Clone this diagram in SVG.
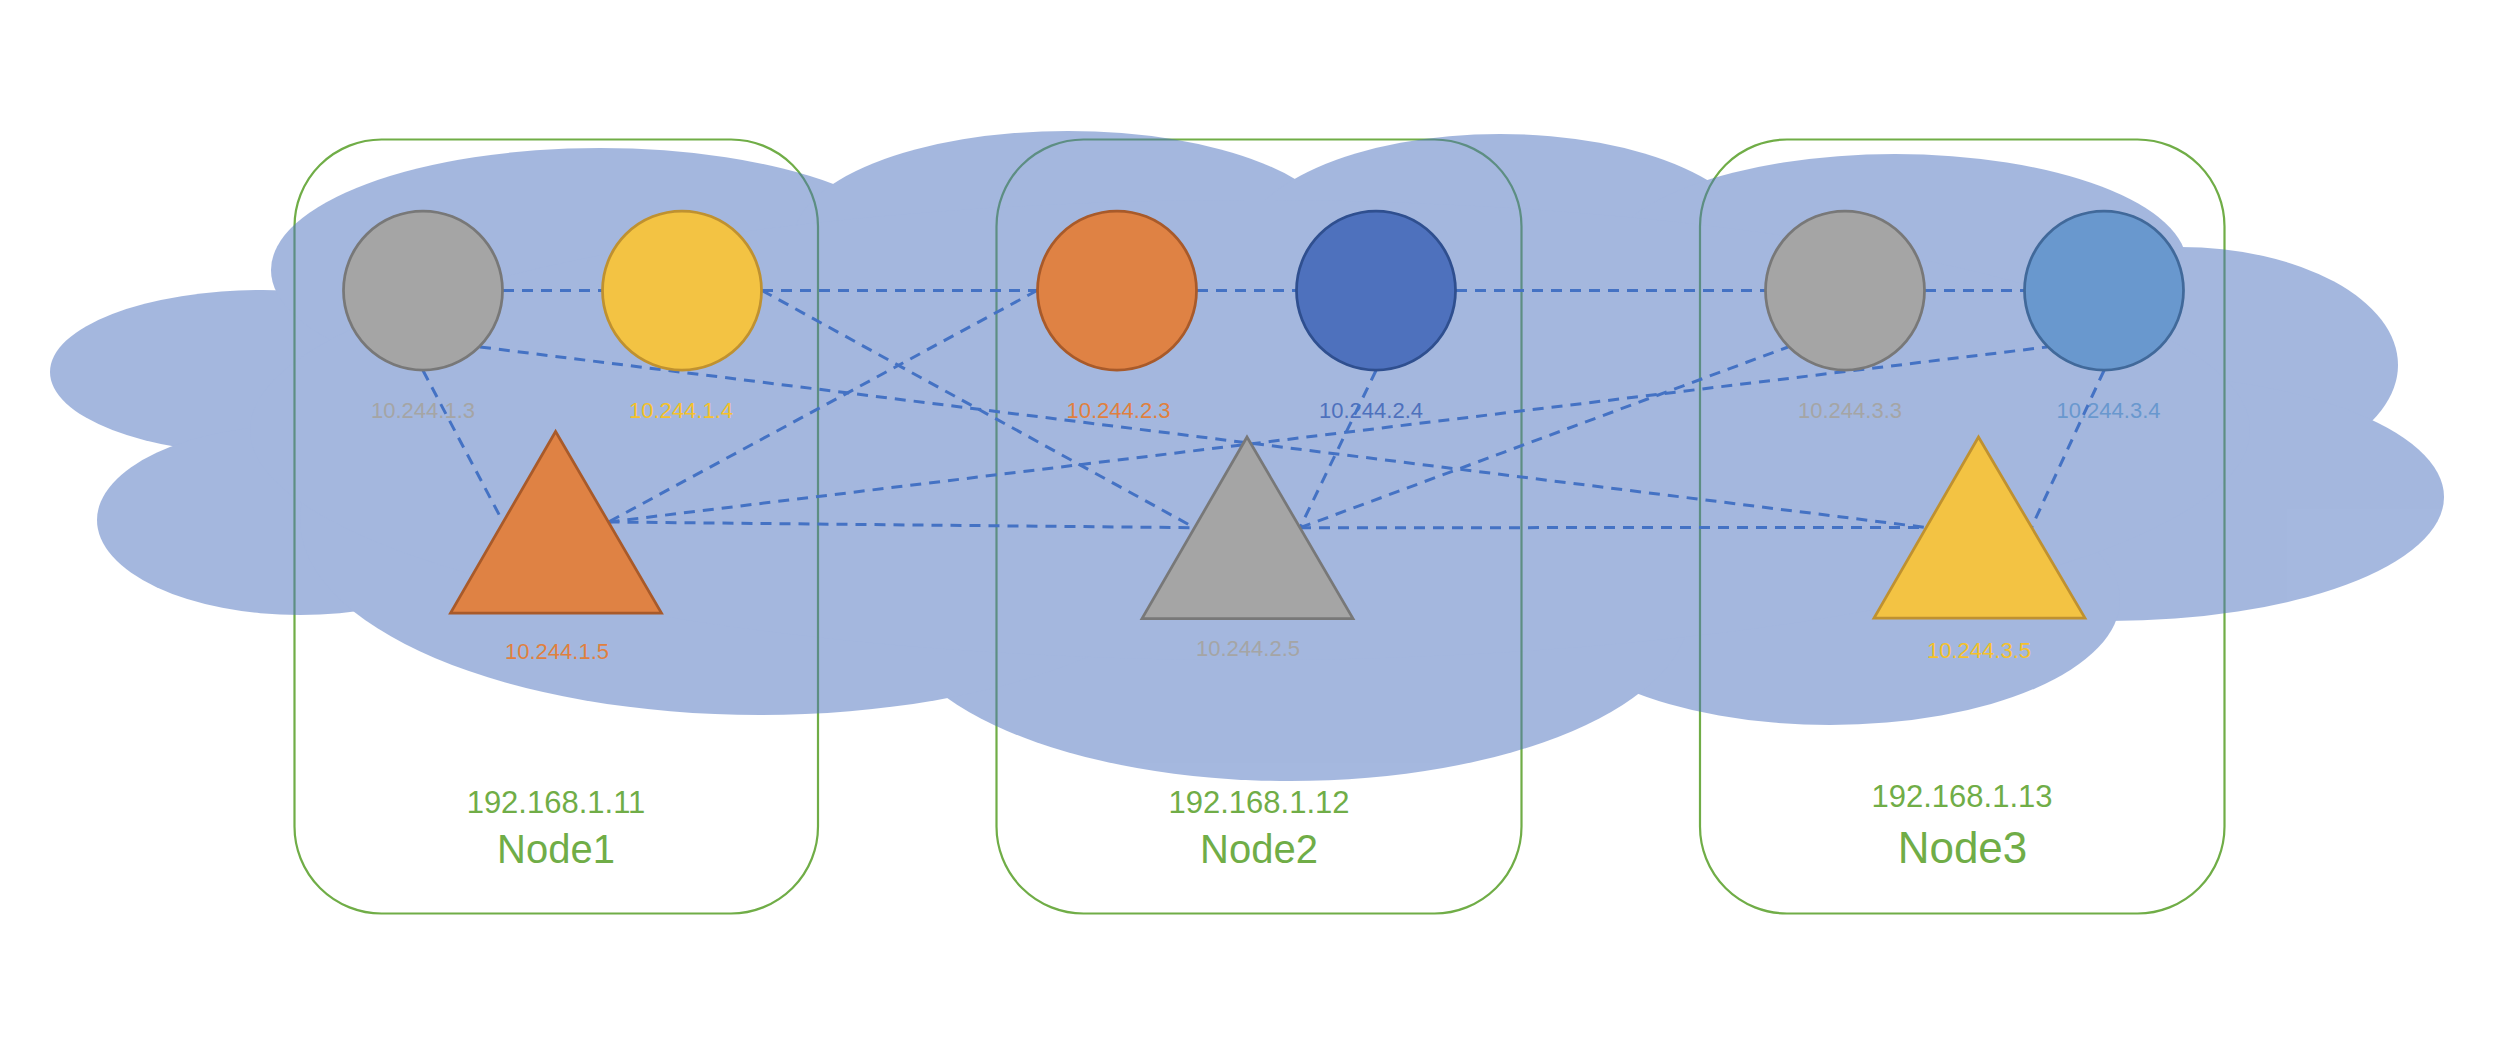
<svg xmlns="http://www.w3.org/2000/svg" width="2500" height="1052" viewBox="0 0 2500 1052">
  <style>
    .host { fill: none; stroke: #70AD47; stroke-width: 2.2; }
    .hostip { font-family: "Liberation Sans", Arial, sans-serif; font-size: 31px; fill: #70AD47; text-anchor: middle; }
    .hostname { font-family: "Liberation Sans", Arial, sans-serif; font-size: 40px; fill: #70AD47; text-anchor: middle; }
    .lbl { font-family: "Liberation Sans", Arial, sans-serif; font-size: 22px; text-anchor: middle; }
    .pod { stroke-width: 2.75; }
    .gray { fill: #A5A5A5; stroke: #787878; }
    .yellow { fill: #F3C343; stroke: #BF9130; }
    .orange { fill: #DF8244; stroke: #A85A2A; }
    .blue { fill: #4E71BD; stroke: #2F4F8F; }
    .lblue { fill: #6998CE; stroke: #41699A; }
    .tgray { fill: #A5A5A5; }
    .tyellow { fill: #F5C12B; }
    .torange { fill: #E0803E; }
    .tblue { fill: #4E71BD; }
    .tlblue { fill: #6998CE; }
    .conn line { stroke: #4472C4; stroke-width: 3; stroke-dasharray: 11 8; fill: none; }
  </style>

  <!-- host nodes (boxes) -->
  <g id="node1">
    <rect class="host" x="294.5" y="139.5" width="523.5" height="774" rx="87" ry="87"/>
    <text class="hostip" x="556" y="812.5">192.168.1.11</text>
    <text class="hostname" x="556" y="863">Node1</text>
  </g>
  <g id="node2">
    <rect class="host" x="996.5" y="139.5" width="525" height="774" rx="87" ry="87"/>
    <text class="hostip" x="1259" y="812.5">192.168.1.12</text>
    <text class="hostname" x="1259" y="863">Node2</text>
  </g>
  <g id="node3">
    <rect class="host" x="1700" y="139.5" width="524.5" height="774" rx="87" ry="87"/>
    <text class="hostip" x="1962" y="806.5">192.168.1.13</text>
    <text class="hostname" x="1962.5" y="862.5" style="font-size:44px">Node3</text>
  </g>

  <!-- overlay network cloud -->
  <g id="cloud" opacity="0.5" fill="#4B71BF">
    <ellipse cx="263" cy="372" rx="213" ry="82"/>
    <ellipse cx="300" cy="520" rx="203" ry="95"/>
    <ellipse cx="600" cy="270" rx="329" ry="122"/>
    <ellipse cx="1068" cy="241" rx="275" ry="110"/>
    <ellipse cx="1500" cy="250" rx="260" ry="116"/>
    <ellipse cx="1895" cy="265" rx="292" ry="111"/>
    <ellipse cx="2180" cy="365" rx="218" ry="118"/>
    <ellipse cx="2110" cy="497" rx="334" ry="124"/>
    <ellipse cx="1830" cy="600" rx="290" ry="125"/>
    <ellipse cx="1290" cy="610" rx="400" ry="171"/>
    <ellipse cx="760" cy="520" rx="460" ry="195"/>
    <ellipse cx="1250" cy="430" rx="1000" ry="230"/>
  </g>

  <!-- pod labels -->
  <g id="labels">
    <text class="lbl tgray" x="423" y="418">10.244.1.3</text>
    <text class="lbl tyellow" x="681" y="418">10.244.1.4</text>
    <text class="lbl torange" x="557" y="659">10.244.1.5</text>
    <text class="lbl torange" x="1118.5" y="418">10.244.2.3</text>
    <text class="lbl tblue" x="1371" y="418">10.244.2.4</text>
    <text class="lbl tgray" x="1248" y="656">10.244.2.5</text>
    <text class="lbl tgray" x="1850" y="418">10.244.3.3</text>
    <text class="lbl tlblue" x="2108.5" y="418">10.244.3.4</text>
    <text class="lbl tyellow" x="1979" y="657.5">10.244.3.5</text>
  </g>

  <!-- connectors -->
  <g id="connectors" class="conn">
    <line x1="503" y1="290.5" x2="602" y2="290.5"/>
    <line x1="762" y1="290.5" x2="1037" y2="290.5"/>
    <line x1="1197" y1="290.5" x2="1296" y2="290.5"/>
    <line x1="1456" y1="290.5" x2="1765" y2="290.5"/>
    <line x1="1925" y1="290.5" x2="2024" y2="290.5"/>
    <line x1="423" y1="370.5" x2="503" y2="522"/>
    <line x1="480" y1="347" x2="1926" y2="527.5"/>
    <line x1="762" y1="290.5" x2="1194.5" y2="527.7"/>
    <line x1="1037" y1="290.5" x2="608.5" y2="522"/>
    <line x1="608.5" y1="522" x2="1194.5" y2="527.7"/>
    <line x1="608.5" y1="522" x2="2047" y2="347"/>
    <line x1="1376" y1="370.5" x2="1300" y2="527.7"/>
    <line x1="1300" y1="527.7" x2="1788" y2="347"/>
    <line x1="1300" y1="527.7" x2="1926" y2="527.5"/>
    <line x1="2104" y1="370.5" x2="2031.5" y2="527.5"/>
  </g>

  <!-- pods -->
  <g id="pod-10-244-1-3"><circle class="pod gray" cx="423" cy="290.5" r="79.5"/></g>
  <g id="pod-10-244-1-4"><circle class="pod yellow" cx="682" cy="290.5" r="79.5"/></g>
  <g id="pod-10-244-1-5"><polygon class="pod orange" points="555.6,431.5 450.5,613 661.5,613"/></g>
  <g id="pod-10-244-2-3"><circle class="pod orange" cx="1117" cy="290.5" r="79.5"/></g>
  <g id="pod-10-244-2-4"><circle class="pod blue" cx="1376" cy="290.5" r="79.5"/></g>
  <g id="pod-10-244-2-5"><polygon class="pod gray" points="1247,437 1142,618.5 1353,618.5"/></g>
  <g id="pod-10-244-3-3"><circle class="pod gray" cx="1845" cy="290.5" r="79.5"/></g>
  <g id="pod-10-244-3-4"><circle class="pod lblue" cx="2104" cy="290.5" r="79.5"/></g>
  <g id="pod-10-244-3-5"><polygon class="pod yellow" points="1978.5,437 1874,618 2085,618"/></g>
</svg>
